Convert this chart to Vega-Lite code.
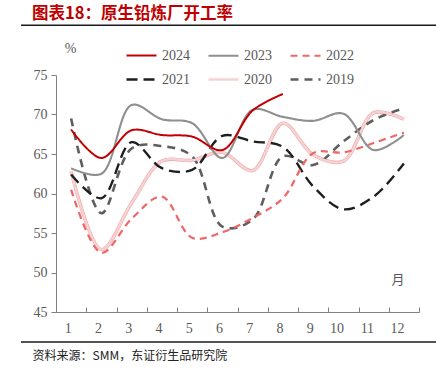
{
  "$schema": "https://vega.github.io/schema/vega-lite/v6.json",
  "width": 363,
  "height": 237,
  "autosize": {"type": "none"},
  "padding": {"left": 56, "top": 75, "right": 17, "bottom": 63},
  "background": "white",
  "title": {
    "text": "图表18：原生铅炼厂开工率",
    "anchor": "start",
    "frame": "group",
    "font": "Noto Sans CJK SC",
    "fontWeight": "bold",
    "fontSize": 16.5,
    "color": "#C00000",
    "dx": -24,
    "dy": -2,
    "offset": 0
  },
  "config": {
    "view": {"stroke": null},
    "font": "Liberation Serif"
  },
  "datasets": {
    "rates": [
      {"year": "2019", "month": 1, "value": 69.5}, {"year": "2019", "month": 2, "value": 57.5}, {"year": "2019", "month": 3, "value": 65.7}, {"year": "2019", "month": 4, "value": 66.0}, {"year": "2019", "month": 5, "value": 64.7}, {"year": "2019", "month": 6, "value": 55.8}, {"year": "2019", "month": 7, "value": 56.7}, {"year": "2019", "month": 8, "value": 64.7}, {"year": "2019", "month": 9, "value": 63.6}, {"year": "2019", "month": 10, "value": 66.6}, {"year": "2019", "month": 11, "value": 69.3}, {"year": "2019", "month": 12, "value": 70.8},
      {"year": "2020", "month": 1, "value": 62.8}, {"year": "2020", "month": 2, "value": 52.9}, {"year": "2020", "month": 3, "value": 58.8}, {"year": "2020", "month": 4, "value": 64.1}, {"year": "2020", "month": 5, "value": 64.2}, {"year": "2020", "month": 6, "value": 65.2}, {"year": "2020", "month": 7, "value": 62.9}, {"year": "2020", "month": 8, "value": 68.9}, {"year": "2020", "month": 9, "value": 64.9}, {"year": "2020", "month": 10, "value": 64.1}, {"year": "2020", "month": 11, "value": 70.2}, {"year": "2020", "month": 12, "value": 69.4},
      {"year": "2021", "month": 1, "value": 62.4}, {"year": "2021", "month": 2, "value": 59.4}, {"year": "2021", "month": 3, "value": 66.5}, {"year": "2021", "month": 4, "value": 63.2}, {"year": "2021", "month": 5, "value": 63.0}, {"year": "2021", "month": 6, "value": 67.3}, {"year": "2021", "month": 7, "value": 66.6}, {"year": "2021", "month": 8, "value": 65.9}, {"year": "2021", "month": 9, "value": 60.9}, {"year": "2021", "month": 10, "value": 58.0}, {"year": "2021", "month": 11, "value": 59.6}, {"year": "2021", "month": 12, "value": 63.8},
      {"year": "2022", "month": 1, "value": 60.5}, {"year": "2022", "month": 2, "value": 52.5}, {"year": "2022", "month": 3, "value": 56.8}, {"year": "2022", "month": 4, "value": 59.6}, {"year": "2022", "month": 5, "value": 54.4}, {"year": "2022", "month": 6, "value": 55.1}, {"year": "2022", "month": 7, "value": 56.9}, {"year": "2022", "month": 8, "value": 59.4}, {"year": "2022", "month": 9, "value": 65.1}, {"year": "2022", "month": 10, "value": 65.2}, {"year": "2022", "month": 11, "value": 66.4}, {"year": "2022", "month": 12, "value": 67.7},
      {"year": "2023", "month": 1, "value": 63.2}, {"year": "2023", "month": 2, "value": 62.5}, {"year": "2023", "month": 3, "value": 71.2}, {"year": "2023", "month": 4, "value": 69.4}, {"year": "2023", "month": 5, "value": 68.9}, {"year": "2023", "month": 6, "value": 64.5}, {"year": "2023", "month": 7, "value": 70.6}, {"year": "2023", "month": 8, "value": 69.7}, {"year": "2023", "month": 9, "value": 69.2}, {"year": "2023", "month": 10, "value": 70.1}, {"year": "2023", "month": 11, "value": 65.5}, {"year": "2023", "month": 12, "value": 67.4},
      {"year": "2024", "month": 1, "value": 68.1}, {"year": "2024", "month": 2, "value": 64.5}, {"year": "2024", "month": 3, "value": 68.0}, {"year": "2024", "month": 4, "value": 67.4}, {"year": "2024", "month": 5, "value": 67.2}, {"year": "2024", "month": 6, "value": 65.5}, {"year": "2024", "month": 7, "value": 70.5}, {"year": "2024", "month": 8, "value": 72.6}
    ],
    "unit": [{"label": "月", "month": 12, "value": 49.1}],
    "frames": [{"level": 81.3}, {"level": 41.2}]
  },
  "layer": [
    {
      "data": {"name": "rates"},
      "transform": [{"filter": "datum.year === '2020'"}],
      "mark": {"type": "line", "interpolate": "catmull-rom", "color": "#E9A3A3", "strokeWidth": 3.4},
      "encoding": {
        "x": {"field": "month", "type": "ordinal", "bandPosition": 0.5, "scale": {"type": "band", "paddingInner": 0, "paddingOuter": 0}},
        "y": {"field": "value", "type": "quantitative"}
      }
    },
    {
      "data": {"name": "rates"},
      "mark": {"type": "line", "interpolate": "catmull-rom"},
      "encoding": {
        "x": {
          "field": "month", "type": "ordinal", "bandPosition": 0.5,
          "scale": {"type": "band", "paddingInner": 0, "paddingOuter": 0},
          "axis": {
            "title": "资料来源：SMM，东证衍生品研究院",
            "titleFont": "Noto Sans CJK SC",
            "titleFontWeight": "normal",
            "titleFontSize": 12,
            "titleColor": "#222222",
            "titleAnchor": "start",
            "titleAlign": "left",
            "titleBaseline": "middle",
            "titleX": -24,
            "titleY": 43,
            "labelAngle": 0,
            "labelFontSize": 14,
            "labelColor": "#595959",
            "labelFont": "Liberation Serif",
            "domainColor": "#808080",
            "tickColor": "#808080",
            "tickBand": "extent",
            "tickSize": -5,
            "labelPadding": 21
          }
        },
        "y": {
          "field": "value", "type": "quantitative",
          "scale": {"domain": [45, 75], "nice": false, "zero": false},
          "axis": {
            "values": [45, 50, 55, 60, 65, 70, 75],
            "tickCount": 7,
            "labelOverlap": false,
            "grid": false,
            "title": "%",
            "titleAngle": 0,
            "titleX": 14,
            "titleY": -27,
            "titleAlign": "center",
            "titleBaseline": "middle",
            "titleFont": "Liberation Serif",
            "titleFontWeight": "normal",
            "titleFontSize": 14,
            "titleColor": "#595959",
            "labelFontSize": 14,
            "labelColor": "#595959",
            "labelFont": "Liberation Serif",
            "labelPadding": 4,
            "domainColor": "#808080",
            "tickColor": "#808080",
            "tickSize": 5
          }
        },
        "color": {
          "field": "year", "type": "nominal",
          "scale": {
            "domain": ["2024", "2023", "2022", "2021", "2020", "2019"],
            "range": ["#C00000", "#8F8F8F", "#EE6868", "#1E1E1E", "#F8D2D2", "#5E5E5E"]
          },
          "legend": {
            "title": null,
            "orient": "none",
            "legendX": 69,
            "legendY": -36,
            "direction": "horizontal",
            "columns": 3,
            "columnPadding": 13,
            "rowPadding": 0,
            "symbolType": "stroke",
            "symbolSize": 900,
            "symbolStrokeWidth": 2.5,
            "labelOffset": 4,
            "labelFontSize": 14,
            "labelColor": "#595959",
            "labelFont": "Liberation Serif"
          }
        },
        "strokeDash": {
          "field": "year", "type": "nominal",
          "scale": {
            "domain": ["2024", "2023", "2022", "2021", "2020", "2019"],
            "range": [[1, 0], [1, 0], [7, 5], [11, 6], [1, 0], [8, 6]]
          },
          "legend": {
            "title": null,
            "orient": "none",
            "legendX": 69,
            "legendY": -36,
            "direction": "horizontal",
            "columns": 3,
            "columnPadding": 13,
            "rowPadding": 0,
            "symbolType": "stroke",
            "symbolSize": 900,
            "symbolStrokeWidth": 2.5,
            "labelOffset": 4,
            "labelFontSize": 14,
            "labelColor": "#595959",
            "labelFont": "Liberation Serif"
          }
        },
        "strokeWidth": {
          "field": "year", "type": "nominal",
          "scale": {
            "domain": ["2024", "2023", "2022", "2021", "2020", "2019"],
            "range": [2, 2.6, 2.2, 2.2, 1.5, 2.2]
          },
          "legend": null
        }
      }
    },
    {
      "data": {"name": "unit"},
      "mark": {"type": "text", "font": "Noto Sans CJK SC", "fontSize": 13, "color": "#595959", "dx": -6},
      "encoding": {
        "x": {"field": "month", "type": "ordinal", "bandPosition": 0.5},
        "y": {"field": "value", "type": "quantitative"},
        "text": {"field": "label"}
      }
    },
    {
      "data": {"name": "frames"},
      "mark": {"type": "rule", "color": "#1A1A1A", "strokeWidth": 1.5, "clip": false},
      "encoding": {
        "x": {"value": -35},
        "x2": {"value": 380},
        "y": {"field": "level", "type": "quantitative"}
      }
    }
  ]
}
